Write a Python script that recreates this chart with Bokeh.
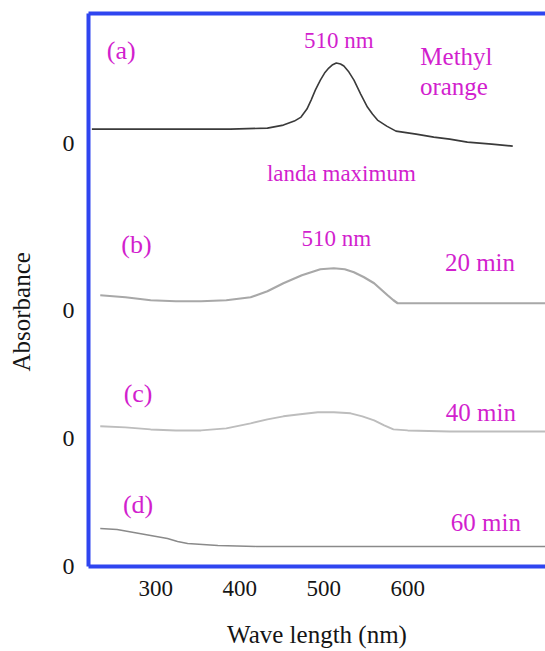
from bokeh.plotting import figure
from bokeh.models import LinearAxis, Label, Range1d, FixedTicker
from bokeh.embed import file_html
from bokeh.resources import INLINE

# ---- data ----
# (a) Methyl orange
wl_a = [224, 300, 389, 433, 452, 465, 473, 480, 485, 490, 496, 501, 506, 510, 515, 520, 524, 530, 536, 544, 552, 558, 564, 575, 586, 610, 631, 650, 671, 700, 725]
ab_a = [0.14, 0.14, 0.14, 0.15, 0.18, 0.22, 0.26, 0.34, 0.43, 0.53, 0.63, 0.70, 0.75, 0.78, 0.80, 0.79, 0.77, 0.71, 0.63, 0.49, 0.36, 0.29, 0.23, 0.17, 0.12, 0.09, 0.06, 0.04, 0.01, -0.01, -0.03]
# (b) 20 min
wl_b = [234, 264, 294, 324, 354, 384, 413, 433, 452, 474, 496, 512, 525, 536, 548, 560, 568, 576, 583, 588, 620, 700, 770]
ab_b = [0.15, 0.13, 0.10, 0.09, 0.09, 0.10, 0.13, 0.19, 0.27, 0.35, 0.41, 0.42, 0.41, 0.38, 0.33, 0.27, 0.21, 0.15, 0.10, 0.07, 0.07, 0.07, 0.07]
# (c) 40 min
wl_c = [234, 264, 294, 324, 354, 384, 413, 433, 452, 472, 493, 512, 532, 546, 560, 572, 583, 600, 650, 770]
ab_c = [0.12, 0.11, 0.09, 0.08, 0.08, 0.10, 0.15, 0.19, 0.22, 0.24, 0.26, 0.26, 0.25, 0.22, 0.18, 0.13, 0.09, 0.08, 0.07, 0.07]
# (d) 60 min
wl_d = [234, 254, 274, 294, 314, 326, 338, 356, 374, 420, 500, 600, 700, 770]
ab_d = [0.38, 0.37, 0.34, 0.31, 0.28, 0.25, 0.23, 0.22, 0.21, 0.20, 0.20, 0.20, 0.20, 0.20]

offsets = [4.23, 2.56, 1.28, 0.0]          # vertical stacking of the spectra ("0" of each)
series_colors = ["#3a3a3a", "#a8a8a8", "#bdbdbd", "#8a8a8a"]
series_widths = [1.6, 2.2, 2.0, 1.4]

x_ticks = [300, 400, 500, 600]
y_tick_labels = ["0", "0", "0", "0"]

BLUE = "#2f45f0"
MAGENTA = "#d21fce"
INK = "#151515"
SERIF = "Liberation Serif"

p = figure(width=545, height=651, output_backend="svg", toolbar_location=None,
           x_range=Range1d(220, 764), y_range=Range1d(0, 5.525))
p.min_border_left = 88
p.min_border_right = 0
p.min_border_top = 13
p.min_border_bottom = 85
p.outline_line_color = None
p.grid.visible = False
p.background_fill_color = "white"

series = [(wl_a, ab_a), (wl_b, ab_b), (wl_c, ab_c), (wl_d, ab_d)]
for (wl, ab), off, c, w in zip(series, offsets, series_colors, series_widths):
    p.line(wl, [v + off for v in ab], line_color=c, line_width=w)

# x axis
xa = p.xaxis[0]
xa.ticker = FixedTicker(ticks=x_ticks)
xa.axis_line_color = BLUE
xa.axis_line_width = 4
xa.major_tick_line_color = None
xa.minor_tick_line_color = None
xa.major_tick_out = 0
xa.major_label_standoff = 14
xa.major_label_text_font = SERIF
xa.major_label_text_font_size = "23px"
xa.major_label_text_color = INK
xa.axis_label = "Wave length (nm)"
xa.axis_label_text_font = SERIF
xa.axis_label_text_font_style = "normal"
xa.axis_label_text_font_size = "25px"
xa.axis_label_text_color = INK
xa.axis_label_standoff = 22

# y axis
ya = p.yaxis[0]
ya.ticker = FixedTicker(ticks=offsets)
ya.major_label_overrides = {o: t for o, t in zip(offsets, y_tick_labels)}
ya.axis_line_color = BLUE
ya.axis_line_width = 4
ya.major_tick_line_color = None
ya.minor_tick_line_color = None
ya.major_tick_out = 0
ya.major_label_standoff = 14
ya.major_label_text_font = SERIF
ya.major_label_text_font_size = "24px"
ya.major_label_text_color = INK
ya.axis_label = "Absorbance" + "\u00a0" * 7
ya.axis_label_text_font = SERIF
ya.axis_label_text_font_style = "normal"
ya.axis_label_text_font_size = "25px"
ya.axis_label_text_color = INK
ya.axis_label_standoff = 25

# top border
top = LinearAxis(axis_line_color=BLUE, axis_line_width=4, major_tick_line_color=None,
                 minor_tick_line_color=None, major_label_text_font_size="0px",
                 major_tick_out=0, major_label_standoff=0)
top.ticker = FixedTicker(ticks=[])
p.add_layout(top, "above")

# annotations (positions in data units)
def lab(x, y, text, size):
    p.add_layout(Label(x=x, y=y, text=text, text_color=MAGENTA, text_font=SERIF,
                       text_font_size=size, text_align="center", text_baseline="middle"))

lab(259, 5.16, "(a)", "26px")
lab(518, 5.26, "510 nm", "23px")
lab(658, 5.10, "Methyl", "25px")
lab(655, 4.80, "orange", "25px")
lab(521, 3.93, "landa maximum", "23px")
lab(277, 3.22, "(b)", "26px")
lab(515, 3.28, "510 nm", "23px")
lab(686, 3.04, "20 min", "25px")
lab(279, 1.73, "(c)", "26px")
lab(687, 1.54, "40 min", "25px")
lab(279, 0.62, "(d)", "26px")
lab(693, 0.44, "60 min", "25px")

open("out.html", "w").write(file_html(p, INLINE))
